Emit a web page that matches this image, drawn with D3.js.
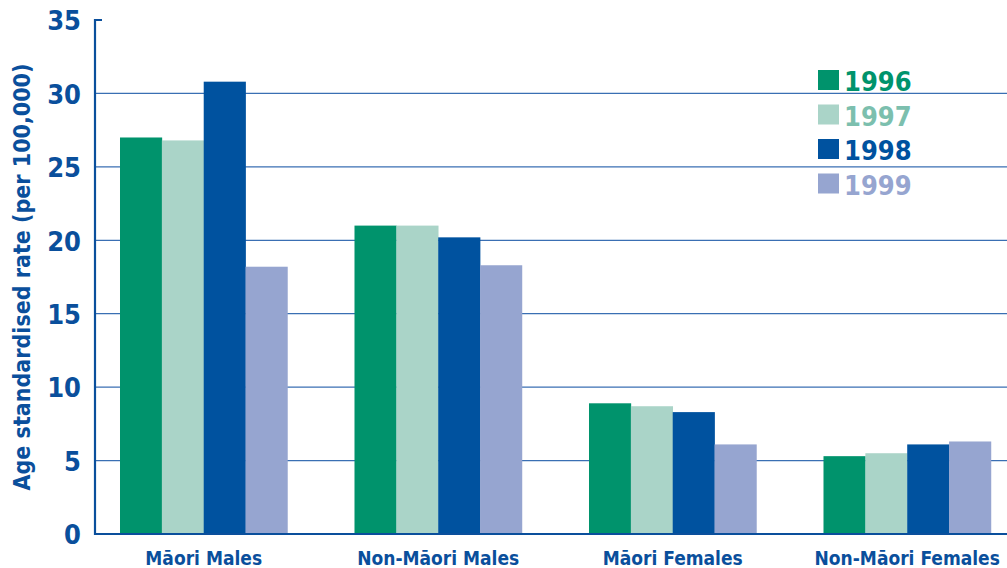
<!DOCTYPE html>
<html>
<head>
<meta charset="utf-8">
<script src="https://cdn.jsdelivr.net/npm/d3@7"></script>
<style>
  body { margin: 0; background: #fff; }
  text { font-family: "DejaVu Sans Condensed", "DejaVu Sans", sans-serif; font-weight: bold; }
</style>
</head>
<body>
<div class="chart"></div>
<script>
var categories = ["Māori Males", "Non-Māori Males", "Māori Females", "Non-Māori Females"];
var years = ["1996", "1997", "1998", "1999"];
var values1996 = [27.0, 21.0, 8.9, 5.3];
var values1997 = [26.8, 21.0, 8.7, 5.5];
var values1998 = [30.8, 20.2, 8.3, 6.1];
var values1999 = [18.2, 18.3, 6.1, 6.3];
var yTicks = [0, 5, 10, 15, 20, 25, 30, 35];
var colors = ["#00936c", "#aad4c8", "#00529f", "#96a5d0"];

var series = [values1996, values1997, values1998, values1999];
var width = 1007, height = 568;
var plotLeft = 95, plotTop = 20, plotBottom = 534;
var blue = "#0a4f9c";

var svg = d3.select(".chart").append("svg")
  .attr("width", width)
  .attr("height", height);

var y = d3.scaleLinear().domain([0, 35]).range([plotBottom, plotTop]);

// band scale: first band starts at 120, step ~234.5
var x = d3.scaleBand()
  .domain(categories)
  .range([plotLeft, plotLeft + 234.5 * (4 - 0.286 + 2 * 0.1066)])
  .paddingInner(0.286)
  .paddingOuter(0.1066);

var xs = d3.scaleBand().domain(years).range([0, x.bandwidth()]);

// gridlines
svg.append("g")
  .selectAll("line")
  .data(yTicks.filter(function (d) { return d > 0 && d < 35; }))
  .join("line")
  .attr("x1", plotLeft).attr("x2", width)
  .attr("y1", function (d) { return y(d); })
  .attr("y2", function (d) { return y(d); })
  .attr("stroke", "#3a6fb3")
  .attr("stroke-width", 1.3);

// bars
svg.append("g")
  .selectAll("g")
  .data(series)
  .join("g")
  .attr("fill", function (d, i) { return colors[i]; })
  .each(function (vals, i) {
    d3.select(this).selectAll("rect")
      .data(vals)
      .join("rect")
      .attr("x", function (d, j) { return x(categories[j]) + xs(years[i]); })
      .attr("width", xs.bandwidth() + 0.3)
      .attr("y", function (d) { return y(d); })
      .attr("height", function (d) { return y(0) - y(d); });
  });

// axes
var yAxis = svg.append("g")
  .attr("transform", "translate(" + plotLeft + ",0)")
  .call(d3.axisLeft(y).tickValues(yTicks).tickSize(0).tickPadding(14));
yAxis.select(".domain").remove();
yAxis.selectAll("text")
  .attr("fill", blue)
  .style("font-size", "27px")
  .attr("dy", "0.36em");

svg.append("path")
  .attr("d", "M" + (plotLeft + 7) + "," + plotTop + "H" + plotLeft + "V" + plotBottom + "H" + width)
  .attr("fill", "none")
  .attr("stroke", blue)
  .attr("stroke-width", 2.2);

svg.append("g")
  .selectAll("text")
  .data(categories)
  .join("text")
  .attr("x", function (d) { return x(d) + x.bandwidth() / 2; })
  .attr("y", 565)
  .attr("text-anchor", "middle")
  .attr("fill", blue)
  .style("font-size", "19px")
  .text(function (d) { return d; });

svg.append("text")
  .attr("transform", "translate(30," + ((plotTop + plotBottom) / 2) + ") rotate(-90)")
  .attr("text-anchor", "middle")
  .attr("fill", blue)
  .style("font-size", "23px")
  .text("Age standardised rate (per 100,000)");

// legend
var legend = svg.append("g")
  .selectAll("g")
  .data(years)
  .join("g")
  .attr("transform", function (d, i) { return "translate(818," + (70 + i * 34.5) + ")"; });
legend.append("rect")
  .attr("width", 21).attr("height", 20)
  .attr("fill", function (d, i) { return colors[i]; });
legend.append("text")
  .attr("x", 26).attr("y", 21)
  .attr("fill", function (d, i) { return i == 1 ? "#7cbfae" : colors[i]; })
  .style("font-size", "27px")
  .text(function (d) { return d; });
</script>
</body>
</html>
